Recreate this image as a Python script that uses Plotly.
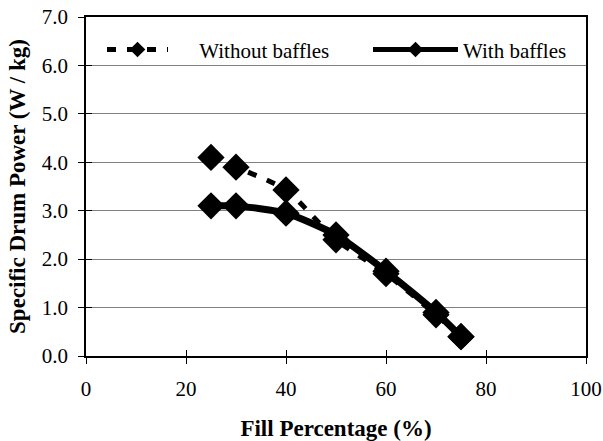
import plotly.graph_objects as go

fill_pct = [25, 30, 40, 50, 60, 70, 75]
without_baffles = [4.1, 3.9, 3.43, 2.4, 1.7, 0.85, 0.4]
with_baffles = [3.1, 3.1, 2.95, 2.5, 1.75, 0.9, 0.4]
x_ticks = [0, 20, 40, 60, 80, 100]
y_ticks = [0, 1, 2, 3, 4, 5, 6, 7]

FONT = "Liberation Serif, Times New Roman, serif"
NB = "\u00a0"

fig = go.Figure()
fig.add_trace(go.Scatter(
    x=fill_pct, y=without_baffles, name=NB * 5 + "Without baffles", mode="lines+markers",
    line=dict(color="black", width=5, dash="9px,11px", shape="spline", smoothing=0.6),
    marker=dict(symbol="diamond", size=21, color="black"), legend="legend",
))
fig.add_trace(go.Scatter(
    x=fill_pct, y=with_baffles, name="With baffles", mode="lines+markers",
    line=dict(color="black", width=7, shape="spline", smoothing=0.6),
    marker=dict(symbol="diamond", size=21, color="black"), legend="legend2",
))
# invisible trace so the overlay axes (inner half of crossing ticks) render
fig.add_trace(go.Scatter(
    x=[x_ticks[0]], y=[y_ticks[0]], xaxis="x2", yaxis="y2", mode="markers",
    marker=dict(opacity=0), showlegend=False, hoverinfo="skip",
))

legend_common = dict(orientation="h", yanchor="middle", xanchor="left", y=0.903,
                     bgcolor="rgba(0,0,0,0)", itemsizing="constant",
                     font=dict(family=FONT, size=21, color="black"))

fig.update_layout(
    width=603, height=441,
    margin=dict(l=86, r=17, t=17, b=85),
    paper_bgcolor="white", plot_bgcolor="white",
    font=dict(family=FONT, size=21, color="black"),
    showlegend=True,
    legend=dict(x=0.032, itemwidth=61, **legend_common),
    legend2=dict(x=0.564, itemwidth=85, **legend_common),
    xaxis=dict(range=[0, 100], tickvals=x_ticks, ticktext=[str(v) for v in x_ticks],
               showline=True, linecolor="black", linewidth=1.5, mirror=True,
               ticks="outside", ticklen=6, tickcolor="black", showgrid=False,
               zeroline=False, automargin=False, ticklabelstandoff=7,
               tickfont=dict(family=FONT, size=21, color="black"),
               title=dict(text="<b>Fill Percentage (%)</b>",
                          font=dict(family=FONT, size=23, color="black"), standoff=20)),
    yaxis=dict(range=[0, 7], tickvals=y_ticks, ticktext=[f"{v:.1f}" for v in y_ticks],
               showline=True, linecolor="black", linewidth=1.5, mirror=True,
               ticks="outside", ticklen=6, tickcolor="black", automargin=False,
               ticklabelstandoff=6,
               tickfont=dict(family=FONT, size=21, color="black"),
               showgrid=True, gridcolor="#808080", gridwidth=1, zeroline=False,
               title=dict(text="<b>Specific Drum Power (W / kg)</b>",
                          font=dict(family=FONT, size=23, color="black"), standoff=10)),
    xaxis2=dict(range=[0, 100], overlaying="x", anchor="y2", side="bottom",
                tickvals=x_ticks, showticklabels=False, ticks="inside", ticklen=6,
                tickcolor="black", showgrid=False, zeroline=False, showline=False,
                automargin=False),
    yaxis2=dict(range=[0, 7], overlaying="y", anchor="x2", side="left",
                tickvals=y_ticks, showticklabels=False, ticks="inside", ticklen=6,
                tickcolor="black", showgrid=False, zeroline=False, showline=False,
                automargin=False),
)

fig.write_html("out.html", config={"displayModeBar": False},
               post_script="document.body.style.margin='0';")
